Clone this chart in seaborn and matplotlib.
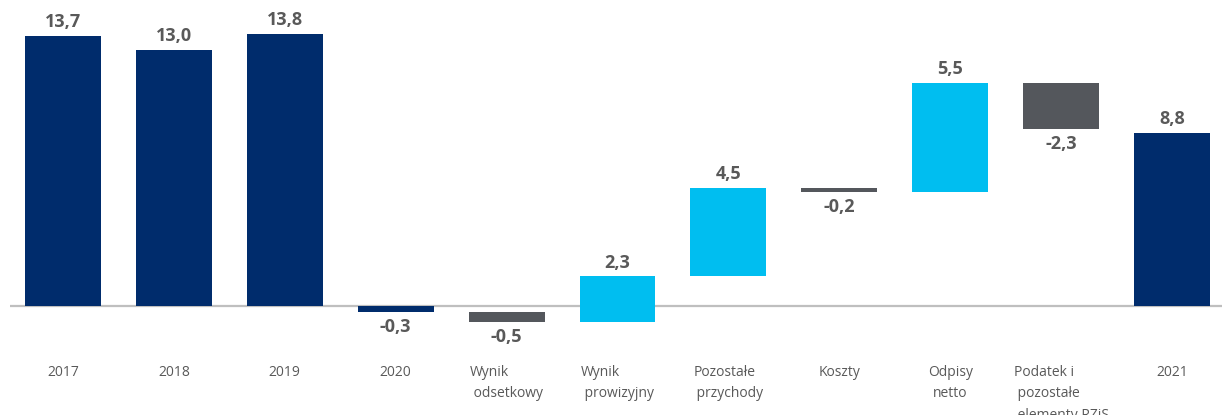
import matplotlib
matplotlib.use("Agg")
import matplotlib.pyplot as plt
import seaborn as sns
import pandas as pd

# Net profit bridge (PLN bn): yearly totals and the 2020 -> 2021 components
categories = ["2017", "2018", "2019", "2020",
              "Wynik\n odsetkowy", "Wynik\n prowizyjny", "Pozostałe\n przychody",
              "Koszty", "Odpisy\nnetto", "Podatek i\n pozostałe\n elementy RZiS", "2021"]
values = [13.7, 13.0, 13.8, -0.3, -0.5, 2.3, 4.5, -0.2, 5.5, -2.3, 8.8]
is_total = [True, True, True, True, False, False, False, False, False, False, True]

NAVY = "#002C6C"
CYAN = "#00BEF0"
GREY = "#54575C"
TEXT = "#595959"

# Floating bars start where the running total stands; totals start at zero
bottoms, kinds = [], []
running = 0.0
for v, tot in zip(values, is_total):
    if tot:
        bottoms.append(0.0)
        running = v
        kinds.append("total")
    else:
        bottoms.append(running)
        running += v
        kinds.append("up" if v >= 0 else "down")

df = pd.DataFrame({"category": categories, "height": values,
                   "bottom": bottoms, "kind": kinds})

sns.set_theme(style="white")
plt.rcParams["font.family"] = ["Open Sans", "DejaVu Sans"]

fig = plt.figure(figsize=(12.22, 4.15), dpi=100)
ax = fig.add_axes([10 / 1222, 85 / 415, 1 - 10 / 1222, 330 / 415])

palette = {"total": NAVY, "up": CYAN, "down": GREY}
for kind, col in palette.items():
    sub = df[df["kind"] == kind]
    sns.barplot(data=sub, x="category", y="height", order=categories,
                color=col, saturation=1, width=0.685, errorbar=None,
                bottom=sub["bottom"].to_numpy(), linewidth=0, ax=ax)

ax.axhline(0, color="#BFBFBF", linewidth=1.6, zorder=0.5)

for i, (v, b) in enumerate(zip(values, bottoms)):
    label = f"{v:.1f}".replace(".", ",")
    end = b + v
    if v >= 0:
        ax.annotate(label, (i, end), xytext=(0, 3.5), textcoords="offset points",
                    ha="center", va="bottom", fontsize=13, fontweight="bold", color=TEXT)
    else:
        ax.annotate(label, (i, end), xytext=(0, -4.5), textcoords="offset points",
                    ha="center", va="top", fontsize=13, fontweight="bold", color=TEXT)

ax.set_xlim(-0.477, 10.45)
ax.set_ylim(-1.22, 15.53)
ax.set_xlabel("")
ax.set_ylabel("")
ax.set_yticks([])
ax.tick_params(axis="x", length=0, pad=25, labelsize=10, labelcolor=TEXT)
for t in ax.get_xticklabels():
    t.set_multialignment("center" if t.get_text().startswith("Odpisy") else "left")
    t.set_linespacing(1.6)
    t.set_verticalalignment("top")
sns.despine(ax=ax, left=True, bottom=True)

fig.savefig("out.png", dpi=100)
